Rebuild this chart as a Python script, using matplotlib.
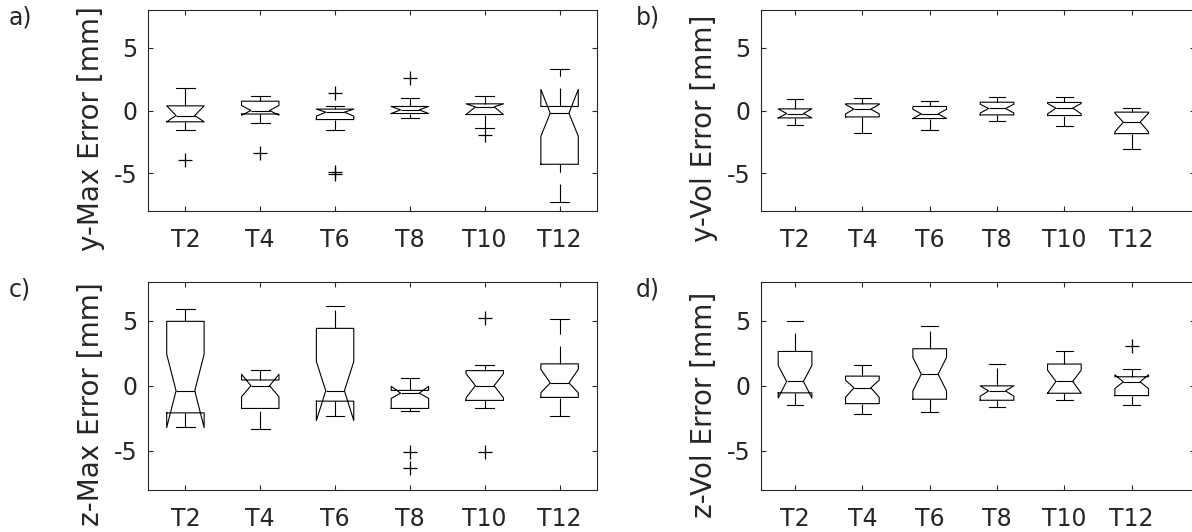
import matplotlib
matplotlib.use("Agg")
import matplotlib.pyplot as plt

plt.rcParams['font.family'] = ['DejaVu Sans']
plt.rcParams['lines.scale_dashes'] = False

categories = ["T2", "T4", "T6", "T8", "T10", "T12"]

# Panel a: y-Max Error
a_med = [-0.40, 0.00, -0.13, 0.05, 0.29, -0.21]
a_q1 = [-0.90, -0.28, -0.72, -0.24, -0.32, -4.28]
a_q3 = [0.37, 0.74, 0.11, 0.32, 0.53, 0.32]
a_lo = [-1.57, -1.01, -1.57, -0.59, -1.38, -7.29]
a_hi = [1.76, 1.14, 0.35, 0.96, 1.14, 3.32]
a_cilo = [-0.90, -0.38, -0.45, -0.24, -0.32, -2.05]
a_cihi = [0.37, 0.40, 0.11, 0.32, 0.53, 1.68]
a_fliers = [[-3.94], [-3.40], [1.41, -4.92, -5.05], [2.55], [-1.97], []]

# Panel b: y-Vol Error
b_med = [-0.24, 0.11, -0.27, 0.16, 0.19, -0.93]
b_q1 = [-0.59, -0.51, -0.64, -0.35, -0.40, -1.84]
b_q3 = [0.13, 0.53, 0.32, 0.66, 0.64, -0.13]
b_lo = [-1.17, -1.78, -1.57, -0.80, -1.25, -3.09]
b_hi = [0.93, 0.98, 0.77, 1.06, 1.04, 0.16]
b_cilo = [-0.59, -0.27, -0.64, -0.20, -0.27, -1.70]
b_cihi = [0.13, 0.48, 0.10, 0.50, 0.56, -0.21]
b_fliers = [[], [], [], [], [], []]

# Panel c: z-Max Error
c_med = [-0.39, 0.00, -0.39, -0.57, 0.00, 0.21]
c_q1 = [-2.09, -1.75, -1.19, -1.75, -1.13, -0.90]
c_q3 = [4.95, 0.44, 4.41, -0.36, 1.16, 1.68]
c_lo = [-3.17, -3.35, -2.35, -1.98, -1.75, -2.35]
c_hi = [5.93, 1.21, 6.16, 0.59, 1.57, 5.15]
c_cilo = [-3.22, -0.85, -2.68, -0.98, -0.93, -0.54]
c_cihi = [2.42, 0.88, 1.86, -0.05, 0.93, 1.26]
c_fliers = [[], [], [], [-5.13, -6.34], [5.18, -5.13], []]

# Panel d: z-Vol Error
d_med = [0.34, -0.15, 0.90, -0.39, 0.34, 0.31]
d_q1 = [-0.54, -1.37, -1.03, -1.11, -0.57, -0.75]
d_q3 = [2.65, 0.75, 2.86, 0.00, 1.68, 0.70]
d_lo = [-1.47, -2.19, -2.01, -1.60, -1.08, -1.47]
d_hi = [5.03, 1.57, 4.59, 1.68, 2.65, 1.31]
d_cilo = [-0.93, -0.88, -0.39, -0.80, -0.57, -0.21]
d_cihi = [1.57, 0.44, 2.19, 0.00, 1.21, 0.85]
d_fliers = [[], [], [], [], [], [3.07]]

y_ticks = [-5, 0, 5]
y_limits = (-8, 8)

panels = [
    ("a)", "y-Max Error [mm]", a_med, a_q1, a_q3, a_lo, a_hi, a_cilo, a_cihi, a_fliers),
    ("b)", "y-Vol Error [mm]", b_med, b_q1, b_q3, b_lo, b_hi, b_cilo, b_cihi, b_fliers),
    ("c)", "z-Max Error [mm]", c_med, c_q1, c_q3, c_lo, c_hi, c_cilo, c_cihi, c_fliers),
    ("d)", "z-Vol Error [mm]", d_med, d_q1, d_q3, d_lo, d_hi, d_cilo, d_cihi, d_fliers),
]

W, H = 1192, 532
fig = plt.figure(figsize=(W / 100, H / 100), dpi=100)

# axes boxes in pixels: left, top, right, bottom
boxes = [
    (148, 10, 597, 211),
    (760.7, 10, 1195, 211),
    (148, 281.7, 597, 489.7),
    (760.7, 282, 1195, 489.7),
]
xlims = [(0.5, 6.5), (0.49, 6.94), (0.5, 6.5), (0.49, 6.94)]
letter_pos = [(9, 6), (636, 6), (9, 278), (636, 278)]

axc = '#262626'
for i, (letter, ylab, med, q1, q3, lo, hi, cilo, cihi, fl) in enumerate(panels):
    l, t, r, b = boxes[i]
    ax = fig.add_axes([l / W, 1 - b / H, (r - l) / W, (b - t) / H])
    stats = []
    for k in range(len(categories)):
        stats.append(dict(med=med[k], q1=q1[k], q3=q3[k], whislo=lo[k], whishi=hi[k],
                          cilo=cilo[k], cihi=cihi[k], fliers=fl[k], label=categories[k]))
    res = ax.bxp(stats, positions=range(1, len(categories) + 1), widths=0.5,
                 shownotches=True, showfliers=True,
                 boxprops=dict(color='black', linewidth=0.8),
                 medianprops=dict(color='black', linewidth=0.8),
                 whiskerprops=dict(color='black', linewidth=0.8, linestyle=(0, (12.9, 8.6))),
                 capprops=dict(color='black', linewidth=0.8),
                 flierprops=dict(marker='+', markersize=10, markeredgecolor='black',
                                 markeredgewidth=0.9, linestyle='none'))
    # draw lower whiskers upward from their end (dash phase as in the reference)
    for j, w in enumerate(res['whiskers']):
        if j % 2 == 0:
            w.set_ydata(list(w.get_ydata())[::-1])
    ax.set_xlim(*xlims[i])
    ax.set_ylim(*y_limits)
    ax.set_yticks(y_ticks)
    ax.set_yticklabels([str(v) for v in y_ticks])
    ax.set_xticks(range(1, len(categories) + 1))
    ax.set_xticklabels(categories)
    ax.tick_params(axis='both', direction='in', length=3.3, width=0.8, color=axc,
                   labelcolor=axc, labelsize=17, top=True, right=True)
    ax.tick_params(axis='x', pad=12.5)
    ax.tick_params(axis='y', pad=7.5)
    for s in ax.spines.values():
        s.set_color(axc)
        s.set_linewidth(0.8)
    ax.set_ylabel(ylab, fontsize=20, color=axc)
    ax.yaxis.set_label_coords(-43 / (r - l), 0.41)
    fig.text(letter_pos[i][0] / W, 1 - letter_pos[i][1] / H, letter, fontsize=17,
             color=axc, ha='left', va='top')

fig.savefig("out.png", dpi=100)
